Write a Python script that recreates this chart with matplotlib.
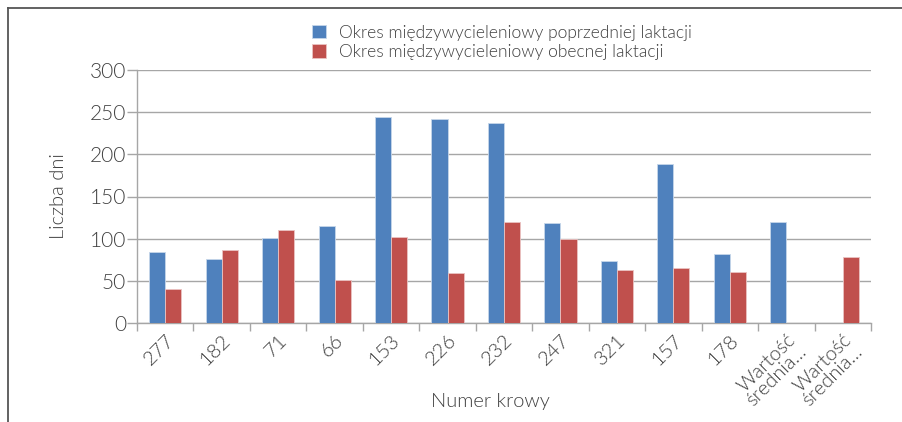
import numpy as np
import matplotlib.pyplot as plt
from matplotlib.lines import Line2D

# dane
krowy = ["277", "182", "71", "66", "153", "226", "232", "247", "321", "157", "178",
         "Wartość\nśrednia...", "Wartość\nśrednia..."]
poprzednia = [84, 76, 101, 115, 244, 242, 237, 118, 74, 189, 82, 120, 0]
obecna = [40, 86, 110, 51, 102, 59, 120, 100, 63, 65, 61, 0, 78]

plt.rcParams['font.family'] = ['Lato', 'DejaVu Sans']
plt.rcParams['font.weight'] = 300
plt.rcParams['axes.labelweight'] = 300
txt = '#404040'
grid_c = '#A6A6A6'

fig = plt.figure(figsize=(9.02, 4.22), dpi=100)
ax = fig.add_axes([137/902, 1-323/422, (871-137)/902, (323-70)/422])

x = np.arange(len(krowy))
w = 0.285
ax.bar(x - w/2, poprzednia, w, color='#4F81BD', edgecolor='#C6D6EA', linewidth=0.6,
       label='Okres międzywycieleniowy poprzedniej laktacji', zorder=3)
ax.bar(x + w/2, obecna, w, color='#C0504D', edgecolor='#EAC3C2', linewidth=0.6,
       label='Okres międzywycieleniowy obecnej laktacji', zorder=3)

ax.set_xlim(-0.5, len(krowy) - 0.5)
ax.set_ylim(0, 300)
ax.set_yticks(range(0, 301, 50))
ax.yaxis.grid(True, color=grid_c, linewidth=1.0, zorder=0)
ax.set_axisbelow(True)

ax.set_xticks(x)
ax.set_xticklabels(krowy, rotation=45, ha='right', rotation_mode='anchor',
                   fontsize=14.5, color=txt, linespacing=0.9)
ax.set_xticks(np.arange(len(krowy) + 1) - 0.5, minor=True)
ax.tick_params(axis='x', which='major', length=0, pad=6)
ax.tick_params(axis='x', which='minor', length=6, color=grid_c, width=1.0)
ax.tick_params(axis='y', length=7, color=grid_c, width=1.0, labelsize=15, labelcolor=txt, pad=1)

for s in ['top', 'right']:
    ax.spines[s].set_visible(False)
for s in ['left', 'bottom']:
    ax.spines[s].set_color(grid_c)
    ax.spines[s].set_linewidth(1.0)

ax.set_ylabel('Liczba dni', fontsize=14.5, color=txt, labelpad=16)
fig.text(490/902, 1-401/422, 'Numer krowy', fontsize=14.5, color=txt, ha='center', va='center')

ax.legend(loc='upper center', bbox_to_anchor=(502/902, 1-16/422), bbox_transform=fig.transFigure,
          frameon=False, fontsize=12.6, labelcolor=txt, handlelength=0.8, handleheight=0.8,
          handletextpad=0.7, labelspacing=0.2, borderpad=0)

# ramka
fig.add_artist(Line2D([8/902, 1], [1-8/422, 1-8/422], transform=fig.transFigure, color='#555555', lw=1.3))
fig.add_artist(Line2D([8/902, 8/902], [0, 1-8/422], transform=fig.transFigure, color='#555555', lw=1.3))

fig.savefig('out.png', dpi=100)
